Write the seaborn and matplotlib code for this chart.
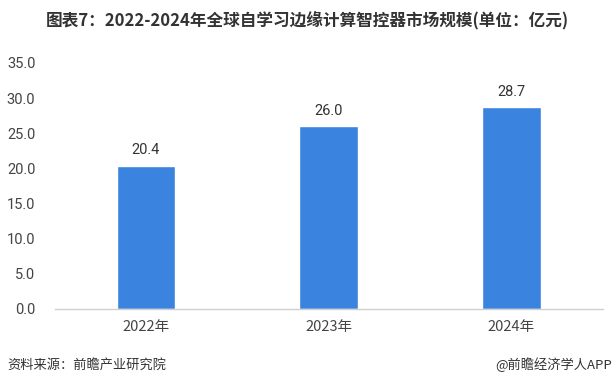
import matplotlib
matplotlib.use("Agg")
import matplotlib.pyplot as plt
import seaborn as sns
import pandas as pd

# data
years = ["2022年", "2023年", "2024年"]
market_size = [20.4, 26.0, 28.7]
yticks = [0, 5, 10, 15, 20, 25, 30, 35]

sns.set_style("white")
plt.rcParams['font.family'] = ['Noto Sans CJK SC', 'DejaVu Sans']

df = pd.DataFrame({"year": years, "size": market_size})

fig = plt.figure(figsize=(6.15, 3.86), dpi=100)
ax = fig.add_axes([0.089, 0.1995, 0.891, 0.6375])
sns.barplot(data=df, x="year", y="size", color="#3a84e0", saturation=1,
            width=0.32, ax=ax)

for i, v in enumerate(market_size):
    ax.text(i, v + 1.2, f"{v:.1f}", ha="center", va="bottom",
            fontsize=10.5, color="#333333", family=['Roboto', 'DejaVu Sans'])

ax.set_ylim(0, 35)
ax.set_xlim(-0.5, 2.5)
ax.set_yticks(yticks)
ax.set_yticklabels([f"{t:.1f}" for t in yticks], family=['Roboto', 'DejaVu Sans'])
ax.tick_params(axis="y", length=0, labelsize=10.5, labelcolor="#444444", pad=14)
ax.tick_params(axis="x", length=0, labelsize=10.5, labelcolor="#444444", pad=8)
ax.set_xlabel("")
ax.set_ylabel("")
for s in ["top", "right", "left"]:
    ax.spines[s].set_visible(False)
ax.spines["bottom"].set_color("#d0d0d0")
ax.spines["bottom"].set_linewidth(1)

fig.text(0.5, 0.945, "图表7：2022-2024年全球自学习边缘计算智控器市场规模(单位：亿元)",
         ha="center", va="center", fontsize=12, fontweight="bold", color="#333333")
fig.text(0.012, 0.055, "资料来源：前瞻产业研究院", ha="left", va="center",
         fontsize=9.5, color="#333333")
fig.text(0.995, 0.055, "@前瞻经济学人APP", ha="right", va="center",
         fontsize=9.5, color="#333333")

fig.savefig("out.png", dpi=100)
